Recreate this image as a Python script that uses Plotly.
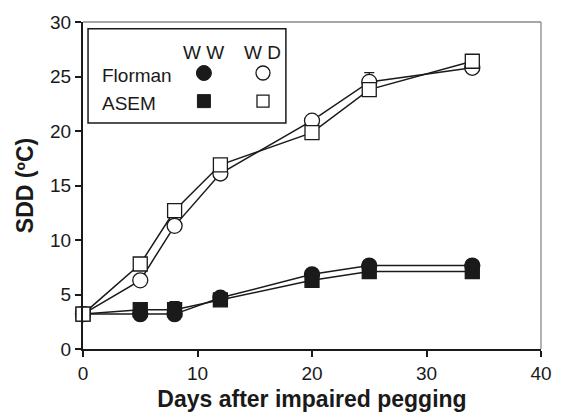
import plotly.graph_objects as go

days = [0, 5, 8, 12, 20, 25, 34]
florman_ww = [3.2, 3.2, 3.2, 4.7, 6.85, 7.65, 7.65]
asem_ww = [3.2, 3.6, 3.6, 4.5, 6.3, 7.1, 7.1]
florman_wd = [3.2, 6.3, 11.3, 16.1, 20.95, 24.5, 25.8]
asem_wd = [3.2, 7.8, 12.7, 16.9, 19.85, 23.8, 26.4]
asem_ww_err = [0, 0, 0.75, 0, 0, 0, 0]
florman_wd_err = [0, 0, 0, 0, 0, 0.85, 0]

x_ticks = [0, 10, 20, 30, 40]
y_ticks = [0, 5, 10, 15, 20, 25, 30]

FONT = "Liberation Sans, Arial, sans-serif"
LC = "#1a1a1a"

fig = go.Figure()

def add(y, symbol, fill, err=None):
    kw = {}
    if err is not None:
        kw["error_y"] = dict(type="data", array=err, arrayminus=[0]*len(err),
                             symmetric=False, color=LC, thickness=1.2, width=5)
    fig.add_trace(go.Scatter(
        x=days, y=y, mode="lines+markers",
        line=dict(color=LC, width=1.5),
        marker=dict(symbol=symbol, size=15 if "circle" in symbol else 14,
                    color=fill, line=dict(color=LC, width=1.3)),
        showlegend=False, cliponaxis=False, **kw))

add(asem_ww, "square", LC, asem_ww_err)
add(florman_ww, "circle", LC)
add(florman_wd, "circle", "white", florman_wd_err)
add(asem_wd, "square", "white")

# legend built on an overlay axis (0..1 in plot-area units)
leg_x = [0.264, 0.393]
leg_y = [0.844, 0.758]
fig.add_trace(go.Scatter(x=[leg_x[0]], y=[leg_y[0]], xaxis="x2", yaxis="y2", mode="markers",
                         marker=dict(symbol="circle", size=15, color=LC, line=dict(color=LC, width=1)),
                         showlegend=False))
fig.add_trace(go.Scatter(x=[leg_x[1]], y=[leg_y[0]], xaxis="x2", yaxis="y2", mode="markers",
                         marker=dict(symbol="circle", size=14, color="white", line=dict(color=LC, width=1.3)),
                         showlegend=False))
fig.add_trace(go.Scatter(x=[leg_x[0]], y=[leg_y[1]], xaxis="x2", yaxis="y2", mode="markers",
                         marker=dict(symbol="square", size=13, color=LC, line=dict(color=LC, width=1)),
                         showlegend=False))
fig.add_trace(go.Scatter(x=[leg_x[1]], y=[leg_y[1]], xaxis="x2", yaxis="y2", mode="markers",
                         marker=dict(symbol="square", size=12, color="white", line=dict(color=LC, width=1.3)),
                         showlegend=False))

annots = [
    dict(x=leg_x[0], y=0.908, text="W W"),
    dict(x=leg_x[1], y=0.908, text="W D"),
    dict(x=0.038, y=0.835, text="Florman", xanchor="left"),
    dict(x=0.038, y=0.752, text="ASEM", xanchor="left"),
]
for a in annots:
    fig.add_annotation(xref="paper", yref="paper", showarrow=False,
                       font=dict(family=FONT, size=19, color=LC),
                       xanchor=a.get("xanchor", "center"), yanchor="middle",
                       x=a["x"], y=a["y"], text=a["text"])

fig.add_shape(type="rect", xref="paper", yref="paper", x0=0.011, x1=0.443, y0=0.691, y1=0.979,
              line=dict(color=LC, width=1.5), fillcolor="rgba(0,0,0,0)")
# gray top/right frame
fig.add_shape(type="line", xref="paper", yref="paper", x0=0, x1=1, y0=1, y1=1,
              line=dict(color="#8a8a8a", width=1.3))
fig.add_shape(type="line", xref="paper", yref="paper", x0=1, x1=1, y0=0, y1=1,
              line=dict(color="#8a8a8a", width=1.3))

fig.update_layout(
    width=553, height=406,
    margin=dict(l=75, r=20, t=14, b=65),
    paper_bgcolor="white", plot_bgcolor="white",
    font=dict(family=FONT, size=19, color=LC),
    xaxis=dict(range=[0, 40], tickvals=x_ticks, ticks="outside", ticklen=6, tickwidth=1.5,
               tickcolor=LC, showline=True, linecolor=LC, linewidth=2, showgrid=False,
               zeroline=False, tickfont=dict(size=19, color=LC), automargin=False,
               title=dict(text="<b>Days after impaired pegging</b>", font=dict(size=23), standoff=8)),
    yaxis=dict(range=[0, 30], tickvals=y_ticks, ticks="outside", ticklen=6, tickwidth=1.5,
               tickcolor=LC, showline=True, linecolor=LC, linewidth=2, showgrid=False,
               zeroline=False, tickfont=dict(size=19, color=LC), automargin=False,
               title=dict(text="<b>SDD (ºC)</b>", font=dict(size=23), standoff=10)),
    xaxis2=dict(range=[0, 1], overlaying="x", visible=False, fixedrange=True),
    yaxis2=dict(range=[0, 1], overlaying="y", visible=False, fixedrange=True),
)

fig.write_html("out.html")
